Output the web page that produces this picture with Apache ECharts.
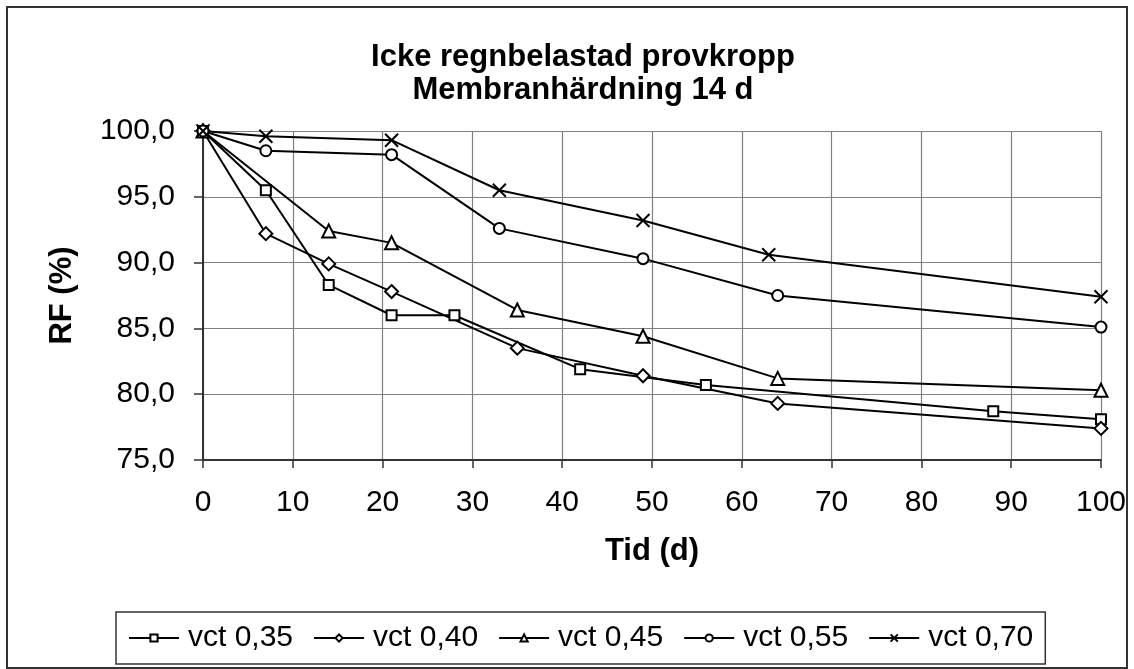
<!DOCTYPE html>
<html>
<head>
<meta charset="utf-8">
<script src="https://cdn.jsdelivr.net/npm/echarts@6/dist/echarts.min.js"></script>
<style>
  html, body { margin: 0; padding: 0; background: #fff; }
  #chart { width: 1134px; height: 669px; }
</style>
</head>
<body>
<div id="chart"></div>
<script>
// Relative humidity over time, one series per w/c ratio
const titleLines = ['Icke regnbelastad provkropp', 'Membranhärdning 14 d'];
const seriesNames = ['vct 0,35', 'vct 0,40', 'vct 0,45', 'vct 0,55', 'vct 0,70'];

const days035 = [0, 7, 14, 21, 28, 42, 56, 88, 100];
const rf035   = [100.0, 95.5, 88.3, 86.0, 86.0, 81.9, 80.7, 78.7, 78.1];

const days040 = [0, 7, 14, 21, 35, 49, 64, 100];
const rf040   = [100.0, 92.2, 89.9, 87.8, 83.5, 81.4, 79.3, 77.4];

const days045 = [0, 14, 21, 35, 49, 64, 100];
const rf045   = [100.0, 92.4, 91.5, 86.4, 84.4, 81.2, 80.3];

const days055 = [0, 7, 21, 33, 49, 64, 100];
const rf055   = [100.0, 98.5, 98.2, 92.6, 90.3, 87.5, 85.1];

const days070 = [0, 7, 21, 33, 49, 63, 100];
const rf070   = [100.0, 99.6, 99.3, 95.5, 93.2, 90.6, 87.4];

const xTicks = { min: 0, max: 100, step: 10 };
const yTicks = { min: 75, max: 100, step: 5 };

const crossPath = 'path://M0,0L10,10M0,10L10,0';
const markers = ['rect', 'diamond', 'triangle', 'circle', crossPath];
const markerSizes = [10, 13, 13, 11, 13];

const pairs = (xs, ys) => xs.map((x, i) => [x, ys[i]]);
const dataSets = [
  pairs(days035, rf035),
  pairs(days040, rf040),
  pairs(days045, rf045),
  pairs(days055, rf055),
  pairs(days070, rf070)
];

const FONT = '"Liberation Sans", Arial, sans-serif';
const fmt = v => v.toFixed(1).replace('.', ',');

const chart = echarts.init(document.getElementById('chart'), null, { renderer: 'canvas' });

chart.setOption({
  backgroundColor: '#fff',
  animation: false,
  title: {
    text: titleLines.join('\n'),
    left: 578,
    top: 36,
    textAlign: 'center',
    textStyle: {
      fontFamily: FONT, fontWeight: 'bold', fontSize: 31, lineHeight: 33, color: '#000'
    }
  },
  grid: { left: 203, right: 33, top: 131, bottom: 209, containLabel: false },
  xAxis: {
    type: 'value',
    min: xTicks.min, max: xTicks.max, interval: xTicks.step,
    name: 'Tid (d)',
    nameLocation: 'middle',
    nameGap: 76,
    nameTextStyle: { fontFamily: FONT, fontWeight: 'bold', fontSize: 31, color: '#000' },
    axisLine: { show: true, onZero: false, lineStyle: { color: '#333', width: 2 } },
    axisTick: { show: true, inside: false, length: 8, lineStyle: { color: '#333', width: 1.5 } },
    axisLabel: { fontFamily: FONT, fontSize: 30, color: '#000', margin: 28 },
    splitLine: { show: true, lineStyle: { color: '#808080', width: 1.2 } }
  },
  yAxis: {
    type: 'value',
    min: yTicks.min, max: yTicks.max, interval: yTicks.step,
    name: 'RF (%)',
    nameLocation: 'middle',
    nameGap: 125,
    nameRotate: 90,
    nameTextStyle: { fontFamily: FONT, fontWeight: 'bold', fontSize: 31, color: '#000' },
    axisLine: { show: true, onZero: false, lineStyle: { color: '#333', width: 2 } },
    axisTick: { show: true, inside: false, length: 9, lineStyle: { color: '#333', width: 1.5 } },
    axisLabel: { fontFamily: FONT, fontSize: 30, color: '#000', margin: 28, formatter: fmt },
    splitLine: { show: true, lineStyle: { color: '#808080', width: 1.2 } }
  },
  legend: {
    data: seriesNames,
    left: 116,
    top: 612,
    orient: 'horizontal',
    itemWidth: 50,
    itemHeight: 9,
    itemGap: 20,
    padding: [11, 12, 11, 12],
    borderColor: '#333',
    borderWidth: 1.5,
    textStyle: { fontFamily: FONT, fontSize: 30, color: '#000', padding: [0, 0, 0, 4] }
  },
  graphic: [{
    type: 'rect',
    shape: { x: 7, y: 7, width: 1120, height: 661 },
    style: { fill: 'none', stroke: '#333', lineWidth: 2 },
    silent: true,
    z: 100
  }],
  series: dataSets.map((d, i) => ({
    name: seriesNames[i],
    type: 'line',
    data: d,
    symbol: markers[i],
    symbolSize: markerSizes[i],
    showAllSymbol: true,
    lineStyle: { color: '#000', width: 2 },
    itemStyle: { color: '#fff', borderColor: '#000', borderWidth: 2 },
    emphasis: { disabled: true },
    z: 3
  }))
});
</script>
</body>
</html>
